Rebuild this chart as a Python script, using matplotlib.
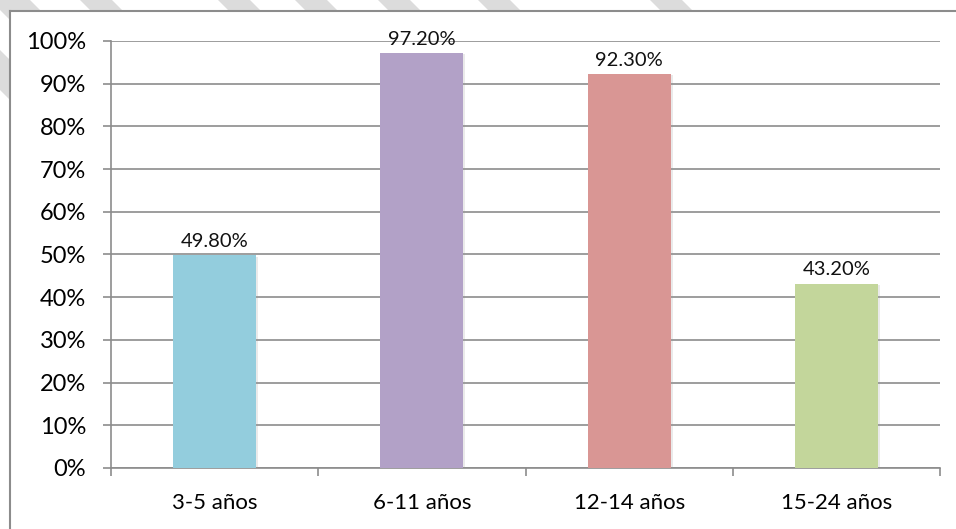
import matplotlib.pyplot as plt
import matplotlib.ticker as ticker
from matplotlib.lines import Line2D
from matplotlib.patches import Polygon
import matplotlib.patheffects as pe

plt.rcParams["font.family"] = ["Lato", "DejaVu Sans"]

# Data
categories = ["3-5 años", "6-11 años", "12-14 años", "15-24 años"]
values = [49.8, 97.2, 92.3, 43.2]
bar_colors = ["#93CDDD", "#B2A1C7", "#D99694", "#C3D69B"]
y_ticks = [0, 10, 20, 30, 40, 50, 60, 70, 80, 90, 100]

grid_color = "#8C8C8C"
W, H = 956, 529

fig = plt.figure(figsize=(W / 100, H / 100), dpi=100)
fig.patch.set_facecolor("white")

# Background diagonal watermark stripes (pixel coords -> figure fraction)
stripe_starts = [80, 218, 295, 378, 478, 650]
for x0 in stripe_starts:
    pts = [(x0, 0), (x0 + 32, 0), (x0 + 32 + 60, 60), (x0 + 60, 60)]
    fig.patches.append(Polygon([(px / W, 1 - py / H) for px, py in pts],
                               closed=True, transform=fig.transFigure,
                               facecolor="#DCDCDC", edgecolor="none", zorder=0))
for y0 in [-30, 50]:
    pts = [(0, y0), (0, y0 + 40), (40, y0 + 80), (40, y0 + 40)]
    fig.patches.append(Polygon([(px / W, 1 - py / H) for px, py in pts],
                               closed=True, transform=fig.transFigure,
                               facecolor="#DCDCDC", edgecolor="none", zorder=0))

# Chart area (white) with outer frame
fig.patches.append(Polygon([(9.5 / W, 0), (9.5 / W, 1 - 11 / H), (1, 1 - 11 / H), (1, 0)],
                           closed=True, transform=fig.transFigure,
                           facecolor="white", edgecolor="none", zorder=1))
fig.lines.append(Line2D([9.5 / W, 9.5 / W], [0, 1 - 11 / H], transform=fig.transFigure,
                        color=grid_color, lw=1.5, zorder=2))
fig.lines.append(Line2D([9.5 / W, 1], [1 - 11 / H, 1 - 11 / H], transform=fig.transFigure,
                        color=grid_color, lw=1.5, zorder=2))

ax = fig.add_axes([111 / W, 1 - 468 / H, (940 - 111) / W, (468 - 41) / H])
ax.set_facecolor("none")
ax.set_zorder(3)

x = list(range(len(categories)))
bars = ax.bar(x, values, width=0.4, color=bar_colors, zorder=3)
for b in bars:
    b.set_path_effects([pe.SimplePatchShadow(offset=(1.5, -1), shadow_rgbFace="#999999", alpha=0.2),
                        pe.Normal()])

for xi, v in zip(x, values):
    ax.annotate(f"{v:.2f}%", (xi, v), xytext=(0, 6), textcoords="offset points",
                ha="center", va="baseline", fontsize=14.5, color="#111111", zorder=4)

ax.set_xlim(-0.5, len(categories) - 0.5)
ax.set_ylim(0, 100)
ax.set_yticks(y_ticks)
ax.yaxis.set_major_formatter(ticker.FuncFormatter(lambda v, _: f"{v:.0f}%"))
ax.yaxis.grid(True, color=grid_color, lw=1.2, zorder=0)
ax.set_axisbelow(True)

ax.set_xticks(x)
ax.set_xticklabels(categories)
ax.set_xticks([i - 0.5 for i in range(len(categories) + 1)], minor=True)
ax.tick_params(axis="x", which="major", length=0, pad=18, labelsize=16)
ax.tick_params(axis="x", which="minor", length=6, width=1.2, color=grid_color, direction="out")
ax.tick_params(axis="y", length=6, width=1.2, color=grid_color, direction="out",
               labelsize=17, pad=12)

for s in ["top", "right"]:
    ax.spines[s].set_visible(False)
for s in ["left", "bottom"]:
    ax.spines[s].set_color(grid_color)
    ax.spines[s].set_linewidth(1.2)

fig.savefig("out.png", dpi=100)
